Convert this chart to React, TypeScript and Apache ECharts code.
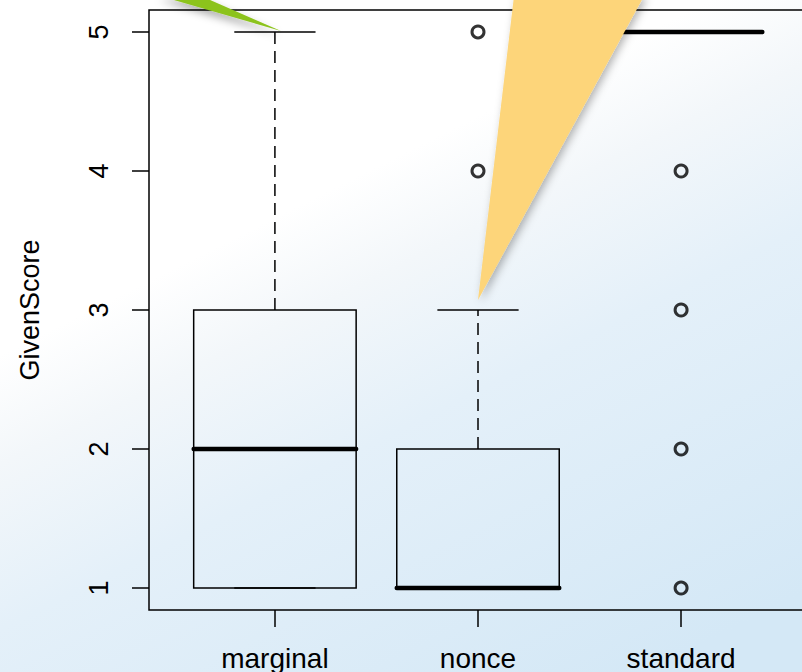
import React, { useEffect, useRef } from "react";
import * as echarts from "echarts";

// ---- data ----
const categories = ["marginal", "nonce", "standard"];
const lowerWhisker = [1, 1, 5];
const q1 = [1, 1, 5];
const median = [2, 1, 5];
const q3 = [3, 2, 5];
const upperWhisker = [5, 3, 5];
const outlierGroup = [2, 2, 3, 3, 3, 3]; // 1-based category position
const outlierValue = [4, 5, 1, 2, 3, 4];
const yTicks = [1, 2, 3, 4, 5];
const xTicks = [1, 2, 3];

export default function App() {
  const ref = useRef<HTMLDivElement>(null);
  useEffect(() => {
    document.body.style.margin = "0";
    document.body.style.overflow = "hidden";
    const chart = echarts.init(ref.current!, null, { renderer: "svg" });

    const boxData = categories.map((_, i) => [
      i + 1,
      lowerWhisker[i],
      q1[i],
      median[i],
      q3[i],
      upperWhisker[i],
    ]);
    const outliers = outlierGroup.map((g, i) => [g, outlierValue[i]]);

    const font = "'Liberation Sans', Arial, Helvetica, sans-serif";

    const option: any = {
      animation: false,
      backgroundColor: new echarts.graphic.LinearGradient(0.2, 0, 0.8, 1, [
        { offset: 0, color: "#ffffff" },
        { offset: 0.3, color: "#ffffff" },
        { offset: 0.42, color: "#f3f7fa" },
        { offset: 0.6, color: "#e4f0f9" },
        { offset: 1, color: "#d4e8f6" },
      ]),
      grid: {
        left: 149,
        top: 10,
        right: 0,
        bottom: 62,
        show: true,
        borderColor: "#000",
        borderWidth: 1.5,
        backgroundColor: "transparent",
      },
      xAxis: {
        type: "value",
        min: 0.38,
        max: 3.62,
        splitLine: { show: false },
        axisLine: { show: false },
        axisTick: {
          show: true,
          inside: false,
          length: 17,
          customValues: xTicks,
          lineStyle: { color: "#000", width: 1.5 },
        },
        axisLabel: {
          customValues: xTicks,
          formatter: (v: number) => categories[Math.round(v) - 1] ?? "",
          fontSize: 28,
          color: "#000",
          fontFamily: font,
          margin: 34,
        },
      },
      yAxis: {
        type: "value",
        min: 0.842,
        max: 5.158,
        name: "GivenScore",
        nameLocation: "middle",
        nameRotate: 90,
        nameGap: 106,
        nameTextStyle: { fontSize: 27, color: "#000", fontFamily: font },
        splitLine: { show: false },
        axisLine: { show: false },
        axisTick: {
          show: true,
          inside: false,
          length: 17,
          customValues: yTicks,
          lineStyle: { color: "#000", width: 1.5 },
        },
        axisLabel: {
          customValues: yTicks,
          rotate: 90,
          fontSize: 27,
          color: "#000",
          fontFamily: font,
          margin: 37,
        },
      },
      series: [
        {
          type: "custom",
          data: boxData,
          z: 3,
          renderItem: (params: any, api: any) => {
            const x = api.value(0);
            const lo = api.value(1);
            const a = api.value(2);
            const m = api.value(3);
            const b = api.value(4);
            const hi = api.value(5);
            const bw = 0.4;
            const sw = 0.2;
            const [xl, yB] = api.coord([x - bw, b]);
            const [xr, yA] = api.coord([x + bw, a]);
            const [xc, yM] = api.coord([x, m]);
            const [, yHi] = api.coord([x, hi]);
            const [, yLo] = api.coord([x, lo]);
            const [sl] = api.coord([x - sw, hi]);
            const [sr] = api.coord([x + sw, hi]);
            const thin = { stroke: "#000", lineWidth: 1.5, fill: "none" };
            const dashed = { stroke: "#000", lineWidth: 1.5, lineDash: [12, 7] };
            const children: any[] = [];
            if (yHi < yB)
              children.push({ type: "line", shape: { x1: xc, y1: yB, x2: xc, y2: yHi }, style: dashed });
            if (yLo > yA)
              children.push({ type: "line", shape: { x1: xc, y1: yA, x2: xc, y2: yLo }, style: dashed });
            children.push({ type: "line", shape: { x1: sl, y1: yHi, x2: sr, y2: yHi }, style: thin });
            children.push({ type: "line", shape: { x1: sl, y1: yLo, x2: sr, y2: yLo }, style: thin });
            children.push({
              type: "rect",
              shape: { x: xl, y: yB, width: xr - xl, height: yA - yB },
              style: thin,
            });
            children.push({
              type: "line",
              shape: { x1: xl, y1: yM, x2: xr, y2: yM },
              style: { stroke: "#000", lineWidth: 4.5, lineCap: "round" },
            });
            return { type: "group", children };
          },
        },
        {
          type: "scatter",
          data: outliers,
          z: 4,
          symbol: "circle",
          symbolSize: 12,
          itemStyle: { color: "rgba(0,0,0,0)", borderColor: "#000", borderWidth: 3 },
        },
      ],
      graphic: [
        {
          type: "polygon",
          z: 100,
          shape: { points: [[160, -4], [201, -4], [281, 31]] },
          style: {
            fill: "#8cc31c",
            shadowBlur: 8,
            shadowColor: "rgba(0,0,0,0.35)",
            shadowOffsetX: -1,
            shadowOffsetY: 4,
          },
        },
        {
          type: "polygon",
          z: 100,
          shape: { points: [[514, -4], [644, -4], [478, 300]] },
          style: {
            fill: "#fdd57a",
            shadowBlur: 8,
            shadowColor: "rgba(0,0,0,0.3)",
            shadowOffsetX: 3,
            shadowOffsetY: 2,
          },
        },
      ],
    };
    chart.setOption(option);
    return () => chart.dispose();
  }, []);
  return (
    <div style={{ width: 802, height: 672, overflow: "hidden", position: "relative" }}>
      <div ref={ref} style={{ width: 807, height: 672 }} />
    </div>
  );
}
